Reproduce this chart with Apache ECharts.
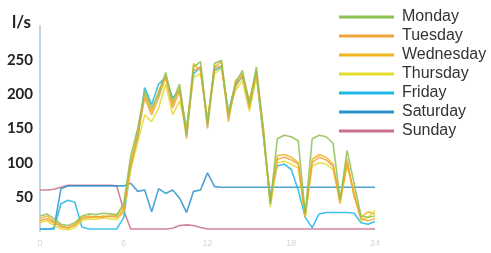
<!DOCTYPE html>
<html>
<head>
<meta charset="utf-8">
<script src="https://cdn.jsdelivr.net/npm/echarts@6/dist/echarts.min.js"></script>
<style>
  html, body { margin: 0; padding: 0; background: #fff; }
  #chart { width: 491px; height: 253px; }
</style>
</head>
<body>
<div id="chart"></div>
<script>
// hour of day, one point every half hour
var hours = [0, 0.5, 1, 1.5, 2, 2.5, 3, 3.5, 4, 4.5, 5, 5.5, 6, 6.5, 7, 7.5, 8, 8.5, 9, 9.5,
    10, 10.5, 11, 11.5, 12, 12.5, 13, 13.5, 14, 14.5, 15, 15.5, 16, 16.5, 17, 17.5, 18, 18.5, 19, 19.5,
    20, 20.5, 21, 21.5, 22, 22.5, 23, 23.5, 24];

var dayNames = ['Monday', 'Tuesday', 'Wednesday', 'Thursday', 'Friday', 'Saturday', 'Sunday'];
var dayColors = ['#8cc152', '#f0a33a', '#f0b41e', '#e4dc2c', '#1fb8e6', '#2f93c8', '#c8708c'];

var monday = [22, 25, 18, 10, 8, 12, 22, 25, 24, 26, 25, 24, 40, 110, 150, 205, 180, 200, 232, 190,
    215, 140, 240, 248, 155, 245, 250, 170, 215, 235, 185, 240, 150, 40, 135, 140, 138, 132, 25, 135,
    140, 138, 128, 46, 118, 70, 22, 20, 22];
var tuesday = [15, 18, 12, 6, 5, 8, 18, 20, 21, 20, 22, 20, 30, 95, 140, 195, 170, 195, 225, 180,
    205, 135, 235, 240, 150, 238, 242, 165, 210, 228, 180, 232, 140, 45, 105, 108, 104, 98, 25, 100,
    108, 104, 95, 45, 100, 55, 18, 15, 18];
var wednesday = [18, 22, 14, 8, 4, 10, 20, 22, 20, 22, 21, 23, 35, 100, 145, 200, 175, 205, 228, 185,
    210, 145, 245, 235, 160, 240, 248, 160, 220, 230, 190, 235, 145, 40, 110, 112, 108, 100, 20, 105,
    112, 108, 98, 40, 105, 50, 20, 28, 25];
var thursday = [12, 15, 8, 3, 2, 5, 15, 18, 17, 19, 18, 17, 28, 90, 130, 170, 160, 180, 215, 170,
    190, 150, 225, 230, 165, 230, 238, 175, 205, 220, 175, 225, 150, 35, 100, 102, 98, 92, 22, 95,
    100, 98, 90, 42, 95, 55, 15, 20, 30];
var friday = [3, 3, 3, 40, 45, 42, 6, 3, 3, 3, 3, 3, 20, 95, 135, 210, 185, 215, 225, 195,
    205, 150, 230, 240, 160, 235, 240, 175, 215, 225, 190, 230, 140, 50, 95, 98, 90, 60, 20, 5,
    25, 27, 27, 27, 27, 26, 12, 10, 14];
var saturday = [3, 3, 4, 62, 66, 66, 66, 66, 66, 66, 66, 66, 66, 70, 58, 60, 28, 62, 55, 60,
    48, 27, 58, 60, 85, 65, 64, 64, 64, 64, 64, 64, 64, 64, 64, 64, 64, 64, 64, 64,
    64, 64, 64, 64, 64, 64, 64, 64, 64];
var sunday = [60, 60, 61, 64, 67, 67, 67, 67, 67, 67, 67, 66, 30, 3, 3, 3, 3, 3, 3, 4,
    8, 9, 8, 5, 3, 3, 3, 3, 3, 3, 3, 3, 3, 3, 3, 3, 3, 3, 3, 3,
    3, 3, 3, 3, 3, 3, 3, 3, 3];

var yTicks = [50, 100, 150, 200, 250];
var xTicks = ['0', '6', '12', '18', '24'];

(function() {
    var allValues = [monday, tuesday, wednesday, thursday, friday, saturday, sunday];

    var series = [];
    for (var i = 0; i < dayNames.length; i++) {
        var points = [];
        for (var j = 0; j < hours.length; j++) {
            points.push([hours[j], allValues[i][j]]);
        }
        series.push({
            type: 'line',
            name: dayNames[i],
            data: points,
            showSymbol: false,
            color: dayColors[i],
            lineStyle: { width: 1.6, opacity: 0.85 },
            z: 10 - i
        });
    }

    var chart = echarts.init(document.getElementById('chart'));
    chart.setOption({
        animation: false,
        title: {
            text: 'l/s',
            left: 7,
            top: 9,
            textStyle: { fontFamily: 'Lato', fontWeight: 'bold', fontSize: 17, color: '#222' }
        },
        legend: {
            data: dayNames,
            orient: 'vertical',
            left: 334,
            top: 4,
            icon: 'rect',
            itemWidth: 55,
            itemHeight: 3,
            itemGap: 3,
            textStyle: {
                fontFamily: 'Liberation Sans',
                fontSize: 16,
                color: '#333',
                padding: [0, 0, 0, 3]
            }
        },
        grid: { left: 40, right: 116, top: 26, bottom: 22 },
        xAxis: {
            type: 'value',
            min: 0,
            max: 24,
            interval: 6,
            axisLine: { show: false },
            axisTick: { show: false },
            splitLine: { show: false },
            axisLabel: {
                color: '#d6d6d6',
                fontSize: 9,
                margin: 8,
                formatter: function(value) {
                    return xTicks[value / 6];
                }
            }
        },
        yAxis: {
            type: 'value',
            min: 0,
            max: 300,
            interval: 50,
            axisLine: { show: true, lineStyle: { color: '#c3d5e2', width: 2 } },
            axisTick: { show: false },
            splitLine: { show: false },
            axisLabel: {
                margin: 7,
                fontFamily: 'Lato',
                fontWeight: 'bold',
                fontSize: 15,
                color: '#222',
                formatter: function(value) {
                    return yTicks.indexOf(value) >= 0 ? String(value) : '';
                }
            }
        },
        series: series
    });
})();
</script>
</body>
</html>
